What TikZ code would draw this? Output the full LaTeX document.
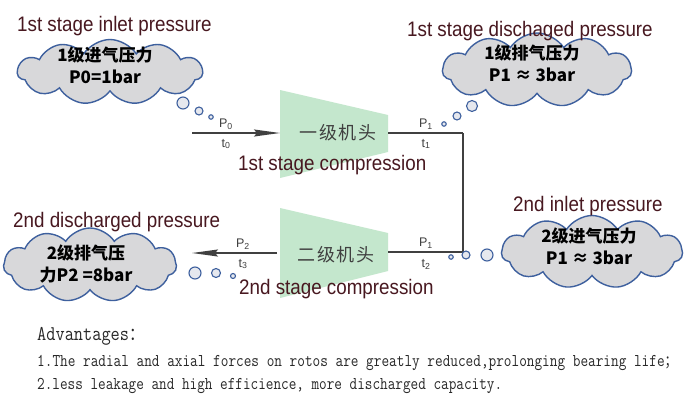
\documentclass[tikz,border=0pt]{standalone}
\usepackage{fontspec}
\usepackage{graphicx}
\setmainfont{Liberation Sans}
\newfontfamily\lbl[FakeStretch=0.895]{Liberation Sans}
\newfontfamily\cjk{Noto Sans CJK SC}
\newfontfamily\cjkspaced[LetterSpace=10]{Noto Sans CJK SC}
\usetikzlibrary{shapes.symbols,arrows.meta}
\definecolor{maroon}{RGB}{72,24,32}
\definecolor{cloudfill}{RGB}{216,216,218}
\definecolor{cloudline}{RGB}{62,96,158}
\definecolor{bubfill}{RGB}{230,232,238}
\definecolor{stagegreen}{RGB}{196,231,205}
\definecolor{pipe}{RGB}{64,64,64}
\definecolor{advtext}{RGB}{40,40,40}
\tikzset{
  title/.style={font=\lbl\fontsize{21}{24}\selectfont, text=maroon, inner sep=0, anchor=base west},
  cloudshape/.style={cloud, cloud puffs=11, cloud puff arc=115, cloud ignores aspect, draw=cloudline, line width=1.4pt, fill=cloudfill, inner sep=0},
  cloudtext/.style={font=\cjk\bfseries\fontsize{17}{21.5}\selectfont, align=center, inner sep=0},
  bubble/.style={circle, draw=cloudline, line width=1.1pt, fill=bubfill, inner sep=0},
  small/.style={font=\fontsize{12.5}{13}\selectfont, text=pipe, inner sep=0},
  stagelbl/.style={font=\cjkspaced\fontsize{18}{20}\selectfont, text=pipe, inner sep=0},
  stagebody/.style={fill=stagegreen, draw=none},
  pipeline/.style={draw=pipe, line width=1.5pt},
  arrowtip/.style={-{Stealth[length=26pt,width=7pt,inset=3pt]}},
  advline/.style={font=\ttfamily\fontsize{18}{20}\selectfont, text=advtext, inner sep=0, anchor=base west},
  advhead/.style={font=\ttfamily\fontsize{21}{24}\selectfont, text=advtext, inner sep=0, anchor=base west}
}
\begin{document}
\begin{tikzpicture}[x=1pt,y=-1pt]
\useasboundingbox[fill=white] (0,0) rectangle (693,402);

% compressor stages
\fill[stagebody] (280,90) -- (388,115) -- (388,152) -- (280,178) -- cycle;
\fill[stagebody] (280,208) -- (388,233) -- (388,271) -- (280,298) -- cycle;
\coordinate (s1in) at (280,133);
\coordinate (s1out) at (388,133);
\coordinate (s2in) at (277,253);
\coordinate (s2out) at (388,252);
\coordinate (in0) at (192,133);
\coordinate (out3) at (192,253);
\coordinate (cr1) at (463,133);
\coordinate (cr2) at (463,252);

% pipes
\draw[pipeline, arrowtip] (in0) -- (s1in);
\draw[pipeline] (s1out) -- (cr1);
\draw[pipeline, line width=1.9pt] (cr1) -- (cr2);
\draw[pipeline] (cr2) -- (s2out);
\draw[pipeline, arrowtip] (s2in) -- (out3);

\node[stagelbl] (st1) at (338,133) {一级机头};
\node[stagelbl] (st2) at (336,255) {二级机头};

% small labels
\node[small] (p0) at (226,124) {P\textsubscript{0}};
\node[small] (t0) at (226,144) {t\textsubscript{0}};
\node[small] (p1a) at (426,124) {P\textsubscript{1}};
\node[small] (t1) at (426,144) {t\textsubscript{1}};
\node[small] (p2) at (243,244) {P\textsubscript{2}};
\node[small] (t3) at (243,264) {t\textsubscript{3}};
\node[small] (p1b) at (426,243) {P\textsubscript{1}};
\node[small] (t2) at (426,264) {t\textsubscript{2}};

% clouds
\node[cloudshape, minimum width=185pt, minimum height=65pt] (c1) at (110,72) {};
\node[cloudshape, minimum width=189pt, minimum height=74pt] (c2) at (537,70) {};
\node[cloudshape, minimum width=173pt, minimum height=74pt] (c3) at (90,265) {};
\node[cloudshape, minimum width=181pt, minimum height=73pt] (c4) at (592,252) {};

\node[cloudtext] (c1t) at (105,65.5) {1级进气压力\\P0=1bar};
\node[cloudtext] (c2t) at (532,63.5) {1级排气压力\\P1 ≈ 3bar};
\node[cloudtext] (c3t) at (86,264) {2级排气压\\力P2 =8bar};
\node[cloudtext] (c4t) at (589,246.5) {2级进气压力\\P1 ≈ 3bar};

% thought bubbles
\node[bubble, minimum size=12pt] (b1a) at (183,103) {};
\node[bubble, minimum size=8pt] (b1b) at (199,111) {};
\node[bubble, minimum size=4.5pt] (b1c) at (211,117) {};
\node[bubble, minimum size=11pt] (b2a) at (472,106) {};
\node[bubble, minimum size=8pt] (b2b) at (457,116) {};
\node[bubble, minimum size=4.5pt] (b2c) at (444,124) {};
\node[bubble, minimum size=12pt] (b3a) at (195,273) {};
\node[bubble, minimum size=9pt] (b3b) at (216,273) {};
\node[bubble, minimum size=5pt] (b3c) at (233,276) {};
\node[bubble, minimum size=12pt] (b4a) at (487,255) {};
\node[bubble, minimum size=8pt] (b4b) at (466,255) {};
\node[bubble, minimum size=4.5pt] (b4c) at (451,257) {};

% titles
\node[title] (h1) at (17,31) {1st stage inlet pressure};
\node[title] (h2) at (407,36) {1st stage dischaged pressure};
\node[title] (h3) at (238,170) {1st stage compression};
\node[title] (h4) at (13,227) {2nd discharged pressure};
\node[title] (h5) at (513,211) {2nd inlet pressure};
\node[title] (h6) at (239,294) {2nd stage compression};

% advantages
\node[advhead] (adv) at (37,340) {\resizebox{107pt}{\height}{Advantages{\cjk\fontsize{17.8}{20}\selectfont ：}}};
\node[advline] (adv1) at (37,366) {\resizebox{640pt}{\height}{1.The radial and axial forces on rotos are greatly reduced,prolonging bearing life{\cjk\fontsize{15.2}{18}\selectfont ；}}};
\node[advline] (adv2) at (37,389) {\resizebox{465pt}{\height}{2.less leakage and high efficience, more discharged capacity.}};
\end{tikzpicture}
\end{document}
